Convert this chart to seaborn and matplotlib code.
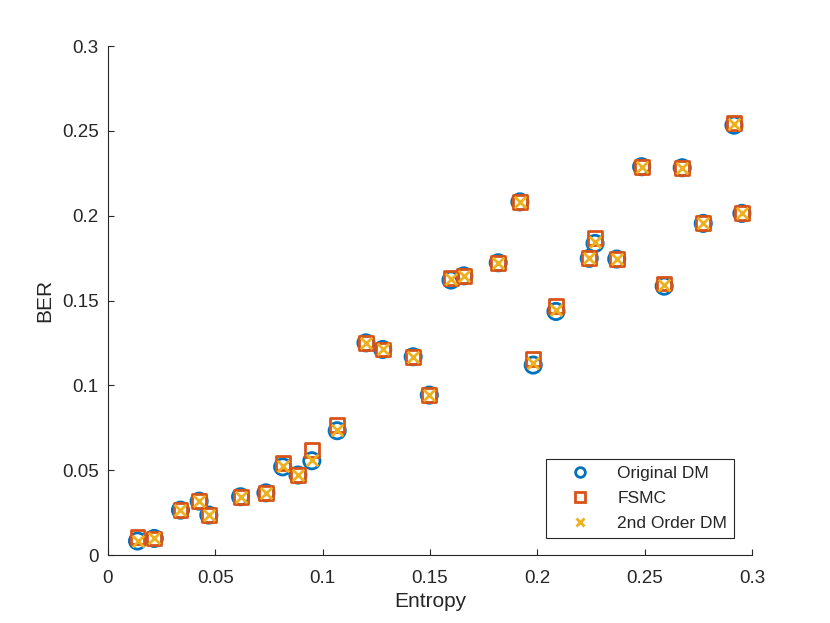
import matplotlib
matplotlib.use("Agg")
import matplotlib.pyplot as plt
from matplotlib.lines import Line2D
import numpy as np
import pandas as pd
import seaborn as sns

# values
entropy = [0.0138, 0.0216, 0.0338, 0.0425, 0.0470, 0.0618, 0.0736, 0.0814, 0.0885, 0.0950,
           0.1068, 0.1202, 0.1280, 0.1422, 0.1497, 0.1598, 0.1658, 0.1818, 0.1919, 0.1981,
           0.2087, 0.2242, 0.2269, 0.2370, 0.2486, 0.2591, 0.2675, 0.2773, 0.2916, 0.2953]
ber_original = [0.0083, 0.0098, 0.0265, 0.0318, 0.0236, 0.0344, 0.0367, 0.0520, 0.0472, 0.0556,
                0.0733, 0.1251, 0.1212, 0.1169, 0.0943, 0.1621, 0.1646, 0.1723, 0.2082, 0.1120,
                0.1436, 0.1749, 0.1837, 0.1745, 0.2289, 0.1585, 0.2283, 0.1955, 0.2534, 0.2014]
ber_fsmc = [0.0108, 0.0098, 0.0265, 0.0318, 0.0236, 0.0344, 0.0367, 0.0544, 0.0472, 0.0619,
            0.0766, 0.1251, 0.1212, 0.1169, 0.0943, 0.1634, 0.1646, 0.1723, 0.2082, 0.1155,
            0.1469, 0.1749, 0.1867, 0.1745, 0.2289, 0.1601, 0.2283, 0.1955, 0.2548, 0.2014]
ber_2nd = [0.0085, 0.0098, 0.0265, 0.0318, 0.0236, 0.0344, 0.0367, 0.0525, 0.0472, 0.0560,
           0.0738, 0.1251, 0.1212, 0.1169, 0.0943, 0.1625, 0.1646, 0.1723, 0.2082, 0.1135,
           0.1445, 0.1749, 0.1845, 0.1745, 0.2289, 0.1590, 0.2283, 0.1955, 0.2538, 0.2014]

series = ["Original DM", "FSMC", "2nd Order DM"]
colors = ["#0072BD", "#D95319", "#EDB120"]
ticks = [0, 0.05, 0.1, 0.15, 0.2, 0.25, 0.3]
tick_labels = ["0", "0.05", "0.1", "0.15", "0.2", "0.25", "0.3"]

sns.set_style("white")
plt.rcParams['font.family'] = ['Liberation Sans', 'DejaVu Sans']

df = pd.DataFrame({'Entropy': entropy, 'orig': ber_original, 'fsmc': ber_fsmc, 'second': ber_2nd})

fig = plt.figure(figsize=(8.3, 6.23), dpi=100)
ax = fig.add_axes([0.130, 0.109, 0.776, 0.817])

# circles, squares, crosses (drawn in that order like the original)
styles = [('orig', 'o', 137, True), ('fsmc', 's', 100, True), ('second', 'x', 70, False)]
for (col, mk, size, hollow), c in zip(styles, colors):
    sns.scatterplot(data=df, x='Entropy', y=col, marker=mk, s=size, color=c, linewidth=2, ax=ax)
    coll = ax.collections[-1]
    if hollow:
        coll.set_facecolor('none')
    coll.set_edgecolor(c)

ax.set_xlim(0, 0.3)
ax.set_ylim(0, 0.3)
ax.set_xticks(ticks)
ax.set_xticklabels(tick_labels)
ax.set_yticks(ticks)
ax.set_yticklabels(tick_labels)
ax.set_xlabel("Entropy", fontsize=15, color='#262626', labelpad=3)
ax.set_ylabel("BER", fontsize=15, color='#262626', labelpad=6)

for side in ['top', 'right']:
    ax.spines[side].set_visible(False)
for side in ['left', 'bottom']:
    ax.spines[side].set_color('#262626')
    ax.spines[side].set_linewidth(0.8)
ax.tick_params(direction='in', length=4, width=0.8, colors='#262626', labelsize=13.5,
               bottom=True, left=True)
ax.tick_params(axis='x', pad=11)
ax.tick_params(axis='y', pad=6.5)

handles = [
    Line2D([], [], ls='none', marker='o', ms=7, mfc='none', mec=colors[0], mew=2),
    Line2D([], [], ls='none', marker='s', ms=6.5, mfc='none', mec=colors[1], mew=2),
    Line2D([], [], ls='none', marker='x', ms=6, mec=colors[2], mew=2),
]
leg = ax.legend(handles, series, loc='lower right', bbox_to_anchor=(0.972, 0.033),
                fontsize=12.5, frameon=True, fancybox=False, framealpha=1,
                borderpad=0.4, labelspacing=0.58, handletextpad=0.57, handlelength=3.1,
                borderaxespad=0)
leg.get_frame().set_edgecolor('#262626')
leg.get_frame().set_linewidth(0.8)

fig.savefig("out.png", dpi=100)
